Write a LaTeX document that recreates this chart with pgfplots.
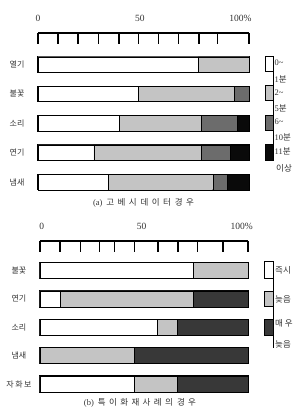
\documentclass[border=0pt]{standalone}
\usepackage{fontspec}
\setmainfont{Liberation Serif}
\newfontfamily\kr{Noto Sans CJK KR}
\newfontfamily\krs[LetterSpace=40]{Noto Sans CJK KR}
\usepackage{pgfplots}
\pgfplotsset{compat=1.18}
\definecolor{lg}{HTML}{C4C4C4}
\definecolor{dg}{HTML}{6C6C6C}
\definecolor{bk}{HTML}{0A0A0A}
\definecolor{dgb}{HTML}{383838}
\pgfplotsset{
  ruler/.style={
    scale only axis, xmin=0, xmax=100,
    xbar stacked,
    axis x line*=top, axis y line*=left,
    x axis line style={-, line width=1.2pt},
    y axis line style={draw=none},
    xticklabels={},
    tick align=inside, major tick length=11pt,
    x tick style={line width=1.2pt, black},
    y tick style={draw=none},
    extra x tick style={major tick length=0pt, tick label style={yshift=8pt}},
    tick label style={font=\fontsize{9.5}{10}\selectfont, text=black!80},
    yticklabel style={anchor=center, xshift=-21pt, font=\kr\fontsize{8}{9}\selectfont, text=black!80},
    ytick={1,2,3,4,5},
    clip=false,
  },
  seg/.style={draw=black, line width=0.4pt},
}
\begin{document}
\begin{tikzpicture}
\path[use as bounding box] (0pt,0pt) rectangle (296pt,411pt);
% ---------- (a)
\begin{axis}[ruler, at={(38pt,378pt)}, anchor=north west,
  width=211pt, height=162.9pt, ymin=0.53, ymax=6.071, bar width=15.5pt,
  xtick={0,9.5,19,28.5,38.4,47.5,57,66.5,76.3,85,100},
  extra x ticks={0,48.3,96}, extra x tick labels={0,50,100\%},
  yticklabels={냄새,연기,소리,불꽃,열기}]
\addplot[seg, fill=white] coordinates {(76,5) (47.5,4) (38.3,3) (26.4,2) (33.2,1)};
\addplot[seg, fill=lg] coordinates {(24,5) (45.5,4) (39.1,3) (51,2) (49.6,1)};
\addplot[seg, fill=dg] coordinates {(0,5) (7,4) (17.1,3) (13.9,2) (6.9,1)};
\addplot[seg, fill=bk] coordinates {(0,5) (0,4) (5.5,3) (8.7,2) (10.3,1)};
\addplot[stack plots=false, xbar, bar width=15.5pt, fill=none, draw=black, line width=1.2pt] coordinates {(100,5) (100,4) (100,3) (100,2) (100,1)};
\end{axis}
% ---------- (b)
\begin{axis}[ruler, at={(40pt,170pt)}, anchor=north west,
  width=208pt, height=157.3pt, ymin=0.5, ymax=6.039, bar width=16pt,
  xtick={0,9.6,19.3,28.6,35.8,45.4,56.7,66.3,75.8,88,100},
  extra x ticks={0.8,48.9,97}, extra x tick labels={0,50,100\%},
  yticklabels={자\hspace{1.5pt}화\hspace{1.5pt}보,냄새,소리,연기,불꽃}]
\addplot[seg, fill=white] coordinates {(73.8,5) (9.6,4) (56.5,3) (0,2) (45.4,1)};
\addplot[seg, fill=lg] coordinates {(26.2,5) (64.2,4) (9.6,3) (45.4,2) (20.7,1)};
\addplot[seg, fill=dgb] coordinates {(0,5) (26.2,4) (33.9,3) (54.6,2) (33.9,1)};
\addplot[stack plots=false, xbar, bar width=16pt, fill=none, draw=black, line width=1.2pt] coordinates {(100,5) (100,4) (100,3) (100,2) (100,1)};
\end{axis}
% ---------- legends
\begin{scope}[x=1pt, y=1pt, line width=1pt]
\draw (273,354) -- (273,250);
\draw[fill=white] (265,354) rectangle (273,339);
\draw[fill=lg] (265,325) rectangle (273,310);
\draw[fill=dg] (265,295) rectangle (273,280);
\draw[fill=bk] (265,266) rectangle (273,250);
\draw (273,149) -- (273,63);
\draw[fill=white] (264,149) rectangle (273,132);
\draw[fill=lg] (264,119) rectangle (273,104);
\draw[fill=dgb] (264,91) rectangle (273,75);
\end{scope}
\begin{scope}[x=1pt, y=1pt, every node/.style={anchor=west, inner sep=0pt, text=black!80, font=\fontsize{8.5}{9}\selectfont}]
\node at (274.5,348) {0\textasciitilde};
\node at (274.5,332) {1\kr 분};
\node at (274.5,318) {2\textasciitilde};
\node at (274.5,303) {5\kr 분};
\node at (274.5,289) {6\textasciitilde};
\node at (274.5,274) {10\kr 분};
\node at (274.5,260) {11\kr 분};
\node at (276,243) {\kr 이상};
\node at (275,141) {\kr 즉시};
\node at (275,112) {\kr 늦음};
\node at (275,88) {\kr 매 우};
\node at (275,67) {\kr 늦음};
\end{scope}
% ---------- captions
\node[text=black!80, font=\fontsize{8.5}{9}\selectfont] at (143.5pt,208pt) {(a)\hspace{4pt}{\krs 고베시\hspace{4pt}데이터\hspace{4pt}경우}};
\node[text=black!80, font=\fontsize{8.5}{9}\selectfont] at (140pt,8pt) {(b)\hspace{4pt}{\krs 특이화재사례의\hspace{4pt}경우}};
\end{tikzpicture}
\end{document}
